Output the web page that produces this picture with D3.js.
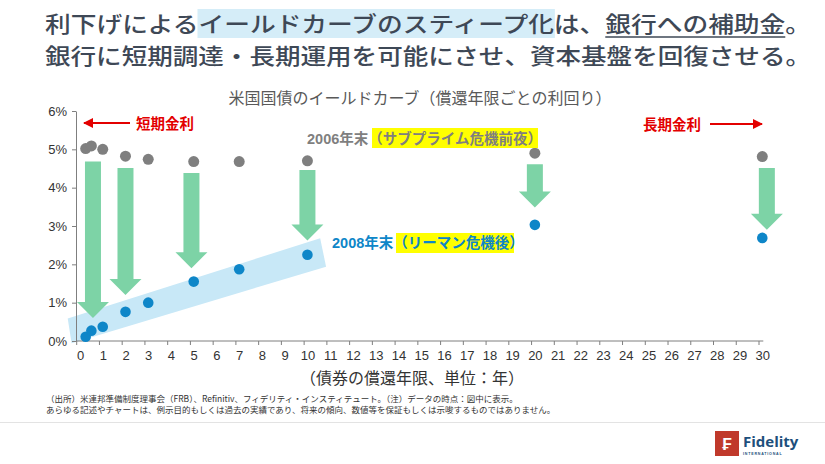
<!DOCTYPE html>
<html><head><meta charset="utf-8">
<script src="https://cdn.jsdelivr.net/npm/d3@7"></script>
<style>
html,body{margin:0;padding:0;background:#fff;}
svg{display:block;}
</style></head>
<body>
<script>
// ---- data ----
const maturities = [0.25, 0.5, 1, 2, 3, 5, 7, 10, 20, 30];
const yields2006 = [5.02, 5.09, 5.00, 4.82, 4.74, 4.68, 4.68, 4.70, 4.90, 4.81];
const yields2008 = [0.11, 0.27, 0.37, 0.76, 1.00, 1.55, 1.87, 2.25, 3.03, 2.69];
const xTicks = d3.range(0, 31);
const yTicks = [0, 1, 2, 3, 4, 5, 6];
// arrows: maturity, from yield, to yield
const arrowX = [0.57, 2, 4.9, 10, 20, 30.2];
const arrowFrom = [4.68, 4.51, 4.38, 4.46, 4.61, 4.51];
const arrowTo = [0.60, 1.20, 1.90, 2.62, 3.48, 2.90];
// band (light blue) corners in data units
const bandX = [-0.37, -0.54, 10.56, 10.82];
const bandY = [-0.06, 0.59, 2.68, 1.94];

const W = 825, H = 464;
const svg = d3.select("body").append("svg").attr("width", W).attr("height", H);
const JP = "'Noto Sans CJK JP','Noto Sans',sans-serif";
const LAT = "'Liberation Sans','Noto Sans CJK JP',sans-serif";

// ---- title ----
const title = svg.append("g");
const hl = title.append("rect").attr("fill", "#d5edf8");
const t1 = title.append("text").attr("x", 45).attr("y", 32).attr("font-family", JP).attr("font-weight", 500)
  .attr("font-size", 22).attr("fill", "#3e4856").attr("textLength", 766).attr("lengthAdjust", "spacingAndGlyphs")
  .text("利下げによるイールドカーブのスティープ化は、銀行への補助金。");
const ul = title.append("line").attr("stroke", "#3e4856").attr("stroke-width", 1.5);
title.append("text").attr("x", 45).attr("y", 64).attr("font-family", JP).attr("font-weight", 500)
  .attr("font-size", 22).attr("fill", "#3e4856").attr("textLength", 766).attr("lengthAdjust", "spacingAndGlyphs")
  .text("銀行に短期調達・長期運用を可能にさせ、資本基盤を回復させる。");
{
  const n = t1.node();
  let a, b, c, d;
  try {
    a = n.getStartPositionOfChar(6).x; b = n.getEndPositionOfChar(19).x;
    c = n.getStartPositionOfChar(22).x; d = n.getEndPositionOfChar(28).x;
  } catch (e) { a = 198; b = 540; c = 606; d = 785; }
  hl.attr("x", a - 1).attr("y", 9).attr("width", b - a + 2).attr("height", 29);
  ul.attr("x1", c).attr("x2", d).attr("y1", 37).attr("y2", 37);
}

// subtitle
svg.append("text").attr("x", 420).attr("y", 104).attr("text-anchor", "middle").attr("font-family", JP)
  .attr("font-size", 16).attr("fill", "#595959").text("米国国債のイールドカーブ（償還年限ごとの利回り）");

// ---- scales ----
const x = d3.scaleLinear().domain([0, 30]).range([80, 762.3]);
const y = d3.scaleLinear().domain([0, 6]).range([341, 111]);
const axisX0 = 76;

// band
const band = bandX.map((v, i) => [x(v), y(bandY[i])]);
svg.append("polygon").attr("points", band.map(p => p.join(",")).join(" ")).attr("fill", "#c8e8f7");

// axes
const gx = svg.append("g").attr("transform", `translate(0,${y(0)})`)
  .call(d3.axisBottom(x).tickValues(xTicks).tickSize(4).tickSizeOuter(0).tickFormat(d3.format("d")));
gx.select(".domain").attr("d", `M${axisX0},0H${x(30) + 1}`).attr("stroke", "#7f7f7f");
gx.selectAll(".tick line").attr("transform", "translate(-3.8,0)").attr("stroke", "#7f7f7f");
gx.selectAll(".tick text").attr("font-family", LAT).attr("font-size", 13).attr("fill", "#333").attr("dy", "0.95em");

const gy = svg.append("g").attr("transform", `translate(${axisX0},0)`)
  .call(d3.axisLeft(y).tickValues(yTicks).tickSize(4).tickSizeOuter(0).tickFormat(d => d + "%"));
gy.select(".domain").attr("stroke", "#7f7f7f");
gy.selectAll(".tick line").attr("stroke", "#7f7f7f");
gy.selectAll(".tick text").attr("font-family", LAT).attr("font-size", 13).attr("fill", "#333").attr("x", -9);

// arrows (green)
const shaftW = 16, headW = 32, headH = 16;
arrowX.forEach((m, i) => {
  const cx = x(m), top = y(arrowFrom[i]), tip = y(arrowTo[i]);
  const hb = tip - headH;
  const pts = [[cx - shaftW / 2, top], [cx + shaftW / 2, top], [cx + shaftW / 2, hb], [cx + headW / 2, hb],
    [cx, tip], [cx - headW / 2, hb], [cx - shaftW / 2, hb]];
  svg.append("polygon").attr("points", pts.map(p => p.join(",")).join(" ")).attr("fill", "#7dd3a6");
});

// points
svg.append("g").selectAll("circle").data(maturities).join("circle")
  .attr("cx", d => x(d)).attr("cy", (d, i) => y(yields2006[i])).attr("r", 5.5).attr("fill", "#7f7f7f");
svg.append("g").selectAll("circle").data(maturities).join("circle")
  .attr("cx", d => x(d)).attr("cy", (d, i) => y(yields2008[i])).attr("r", 5.3).attr("fill", "#0e86c8");

// labels
const red = "#e30000";
svg.append("defs").append("marker").attr("id", "ah").attr("viewBox", "0 0 10 10").attr("refX", 9).attr("refY", 5)
  .attr("markerWidth", 5).attr("markerHeight", 5).attr("orient", "auto-start-reverse")
  .append("path").attr("d", "M0,0L10,5L0,10z").attr("fill", red);
svg.append("line").attr("x1", 130).attr("x2", 84).attr("y1", 123).attr("y2", 123).attr("stroke", red).attr("stroke-width", 2).attr("marker-end", "url(#ah)");
svg.append("text").attr("x", 136).attr("y", 129).attr("font-family", JP).attr("font-weight", 700).attr("font-size", 14.5).attr("fill", red).text("短期金利");
svg.append("text").attr("x", 643).attr("y", 130).attr("font-family", JP).attr("font-weight", 700).attr("font-size", 14.5).attr("fill", red).text("長期金利");
svg.append("line").attr("x1", 710).attr("x2", 762).attr("y1", 124).attr("y2", 124).attr("stroke", red).attr("stroke-width", 2).attr("marker-end", "url(#ah)");

// 2006 label
svg.append("rect").attr("x", 372).attr("y", 128).attr("width", 166).attr("height", 20).attr("fill", "#ffff00");
const t06 = svg.append("text").attr("x", 307).attr("y", 144).attr("font-family", JP).attr("font-weight", 700).attr("font-size", 14.5).attr("fill", "#7f7f7f");
t06.append("tspan").attr("font-family", LAT).text("2006");
t06.append("tspan").text("年末（サブプライム危機前夜）");

// 2008 label
svg.append("rect").attr("x", 396).attr("y", 233).attr("width", 118).attr("height", 20).attr("fill", "#ffff00");
const t08 = svg.append("text").attr("x", 332).attr("y", 248).attr("font-family", JP).attr("font-weight", 700).attr("font-size", 14.5).attr("fill", "#0e86c8");
t08.append("tspan").attr("font-family", LAT).text("2008");
t08.append("tspan").text("年末（リーマン危機後）");

// x axis label
svg.append("text").attr("x", 412).attr("y", 384).attr("text-anchor", "middle").attr("font-family", JP)
  .attr("font-size", 16).attr("fill", "#333").text("（債券の償還年限、単位：年）");

// footnotes
svg.append("text").attr("x", 46).attr("y", 402).attr("font-family", JP).attr("font-size", 8.5).attr("fill", "#333")
  .text("（出所）米連邦準備制度理事会（FRB）、Refinitiv、フィデリティ・インスティテュート。（注）データの時点：図中に表示。");
svg.append("text").attr("x", 46).attr("y", 413).attr("font-family", JP).attr("font-size", 8.5).attr("fill", "#333")
  .text("あらゆる記述やチャートは、例示目的もしくは過去の実績であり、将来の傾向、数値等を保証もしくは示唆するものではありません。");

// separator
svg.append("line").attr("x1", 0).attr("x2", W).attr("y1", 422.5).attr("y2", 422.5).attr("stroke", "#e3e3e3").attr("stroke-width", 1);

// logo
const lg = svg.append("g");
lg.append("rect").attr("x", 715).attr("y", 431).attr("width", 24).attr("height", 25).attr("fill", "#c0392b");
lg.append("text").attr("x", 727).attr("y", 450).attr("text-anchor", "middle").attr("font-family", LAT).attr("font-weight", 700)
  .attr("font-size", 17).attr("fill", "#fff").text("₣");
lg.append("text").attr("x", 743).attr("y", 447).attr("font-family", "'Open Sans',sans-serif").attr("font-weight", 700)
  .attr("font-size", 15).attr("fill", "#1d4f7c").text("Fidelity");
lg.append("text").attr("x", 743).attr("y", 454.5).attr("font-family", LAT).attr("font-weight", 700)
  .attr("font-size", 3.6).attr("letter-spacing", 0.8).attr("fill", "#1d4f7c").text("INTERNATIONAL");
</script>
</body></html>
